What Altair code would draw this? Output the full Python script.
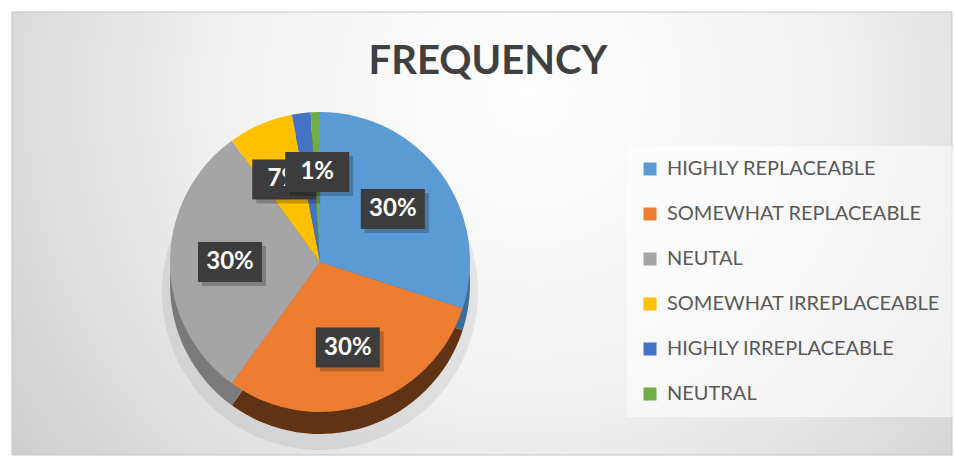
import altair as alt
import pandas as pd

# ---- data ----
categories = ["HIGHLY REPLACEABLE", "SOMEWHAT REPLACEABLE", "NEUTAL",
              "SOMEWHAT IRREPLACEABLE", "HIGHLY IRREPLACEABLE", "NEUTRAL"]
values = [30, 30, 30, 7, 2, 1]
labels = ["30%", "30%", "30%", "7%", "", "1%"]
title_text = ["FREQUENCY"]

# ---- styles ----
top_colors = ["#5b9bd5", "#ed7d31", "#a5a5a5", "#ffc000", "#4472c4", "#70ad47"]
side_colors = ["#3d6d9b", "#5f3313", "#7a7a7a", "#a37a00", "#2f5290", "#4e7a31"]

W, H = 954, 466
CX, CY, R = 320, 262, 150
DEPTH = 22
LR = 0.6 * R
BW, BH = 32, 20  # half box sizes

df = pd.DataFrame({"category": categories, "value": values,
                   "label": labels, "idx": list(range(len(categories)))})

bg = alt.Chart(pd.DataFrame({"a": [0]})).mark_rect(
    fill=alt.Gradient(
        gradient="radial",
        stops=[alt.GradientStop(color="#ffffff", offset=0),
               alt.GradientStop(color="#f0f0f0", offset=0.45),
               alt.GradientStop(color="#c6c6c6", offset=1)],
        x1=0.55, y1=0.35, x2=0.55, y2=0.35, r1=0, r2=0.75),
    stroke="#c4c4c4", strokeWidth=1,
).encode(x=alt.value(12), x2=alt.value(952), y=alt.value(12), y2=alt.value(455))

base = alt.Chart(df)

shadow = base.mark_arc(radius=R + 8, color="#000000", opacity=0.07).encode(
    theta=alt.Theta("value:Q", stack=True),
    order=alt.Order("idx:Q"),
    x=alt.value(CX), y=alt.value(CY + DEPTH + 8),
)

side = base.mark_arc(radius=R).encode(
    theta=alt.Theta("value:Q", stack=True),
    order=alt.Order("idx:Q"),
    color=alt.Color("category:N",
                    scale=alt.Scale(domain=categories, range=side_colors),
                    legend=None),
    x=alt.value(CX), y=alt.value(CY + DEPTH),
)

top = base.mark_arc(radius=R).encode(
    theta=alt.Theta("value:Q", stack=True),
    order=alt.Order("idx:Q"),
    color=alt.Color("category:N",
                    scale=alt.Scale(domain=categories, range=top_colors),
                    legend=alt.Legend(
                        title=None, orient="none", legendX=627, legendY=146,
                        padding=13, fillColor="rgba(255,255,255,0.55)",
                        symbolType="square", symbolSize=169,
                        symbolStrokeWidth=0, labelFont="Lato",
                        labelFontSize=20, labelColor="#595959",
                        labelOffset=7, rowPadding=25, labelLimit=400)),
    x=alt.value(CX), y=alt.value(CY),
)

lab = base.transform_joinaggregate(total="sum(value)").transform_window(
    cum="sum(value)", sort=[alt.SortField("idx")], frame=[None, 0]
).transform_calculate(
    mid="(datum.cum - datum.value/2) / datum.total * 2 * PI",
).transform_calculate(
    lx=f"{CX} + {LR} * sin(datum.mid)",
    ly=f"{CY} - {LR} * cos(datum.mid)",
).transform_calculate(
    bx1=f"datum.lx - {BW}", bx2=f"datum.lx + {BW}",
    by1=f"datum.ly - {BH}", by2=f"datum.ly + {BH}",
    sx1=f"datum.lx - {BW} + 4", sx2=f"datum.lx + {BW} + 4",
    sy1=f"datum.ly - {BH} + 4", sy2=f"datum.ly + {BH} + 4",
).transform_filter("datum.label != ''")

label_layers = []
for i in range(len(categories)):
    li = lab.transform_filter(f"datum.idx == {i}")
    sh = li.mark_rect(color="#000000", opacity=0.22).encode(
        x=alt.X("sx1:Q", scale=None, axis=None), x2="sx2:Q",
        y=alt.Y("sy1:Q", scale=None, axis=None), y2="sy2:Q")
    box = li.mark_rect(color="#3c3c3c").encode(
        x=alt.X("bx1:Q", scale=None, axis=None), x2="bx2:Q",
        y=alt.Y("by1:Q", scale=None, axis=None), y2="by2:Q")
    txt = li.mark_text(font="Lato", fontWeight="bold", fontSize=24,
                       color="#ffffff", baseline="middle", align="center").encode(
        x=alt.X("lx:Q", scale=None, axis=None),
        y=alt.Y("ly:Q", scale=None, axis=None),
        text="label:N")
    label_layers += [sh, box, txt]

title = alt.Chart(pd.DataFrame({"t": title_text})).mark_text(
    font="Lato", fontWeight="bold", fontSize=40, color="#404040",
    baseline="middle", align="center"
).encode(x=alt.value(488), y=alt.value(62), text="t:N")

chart = alt.layer(bg, shadow, side, top, *label_layers, title).resolve_scale(
    color="independent"
).properties(
    width=W, height=H, autosize="none", padding=0, background="#ffffff"
).configure_view(stroke=None)

chart.save("out.html", embed_options={"renderer": "svg", "actions": False})
